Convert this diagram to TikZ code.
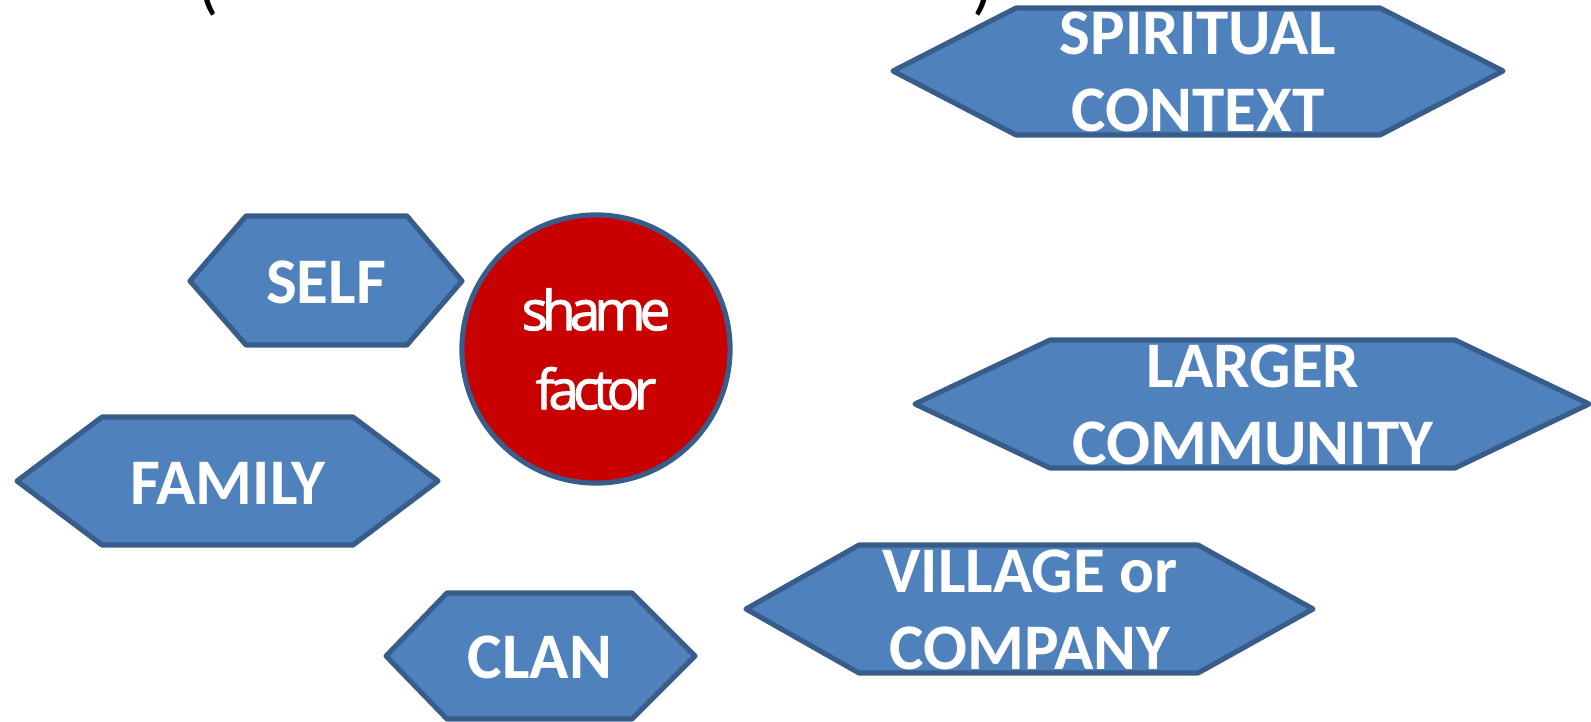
\documentclass[tikz,border=0pt]{standalone}
\usepackage{fontspec}
\setmainfont{Carlito}
\newfontfamily\shamefont[LetterSpace=-11,FakeBold=1.6]{Open Sans}

\definecolor{hexfill}{HTML}{4F81BD}
\definecolor{hexline}{HTML}{385D8A}
\definecolor{shamered}{HTML}{C80000}

\tikzset{
  hexa/.style={draw=hexline,fill=hexfill,line width=1.45pt,line join=round},
  lbl/.style={text=white,align=center,font=\fontsize{18.5}{22}\selectfont\bfseries},
  paren/.style={anchor=base,inner sep=0pt,font=\fontsize{20}{24}\selectfont}
}

\begin{document}
\begin{tikzpicture}[x=0.01cm,y=-0.01cm]
    \useasboundingbox (0,0) rectangle (1591,721);

    % cut-off title
    \node[paren] (lparen) at (208,6) {(};
    \node[paren] (rparen) at (983,6) {)};

    % outer spheres
    \draw[hexa] (893,71) -- (1016,8) -- (1380,8) -- (1503,71) -- (1380,135) -- (1016,135) -- cycle;
    \node[lbl] (spirit) at (1198,72) {SPIRITUAL\\CONTEXT};

    \draw[hexa] (915,404) -- (1050,340) -- (1455,340) -- (1589,404) -- (1455,468) -- (1050,468) -- cycle;
    \node[lbl] (larger) at (1253,405) {LARGER\\COMMUNITY};

    \draw[hexa] (746,609) -- (859,545) -- (1198,545) -- (1313,609) -- (1198,673) -- (859,673) -- cycle;
    \node[lbl] (village) at (1030,610) {VILLAGE or\\COMPANY};

    % inner spheres
    \draw[hexa] (190,281) -- (246,216) -- (407,216) -- (462,281) -- (407,345) -- (246,345) -- cycle;
    \node[lbl] (self) at (326,282) {SELF};

    \draw[hexa] (17,481) -- (102,417) -- (353,417) -- (438,481) -- (353,545) -- (102,545) -- cycle;
    \node[lbl] (family) at (228,483) {FAMILY};

    \draw[hexa] (386,656) -- (447,593) -- (632,593) -- (695,656) -- (632,719) -- (447,719) -- cycle;
    \node[lbl] (clan) at (540,657) {CLAN};

    \node[circle,draw=hexline,fill=shamered,line width=1.45pt,minimum size=2.68cm,inner sep=0pt,
          text=white,align=center,font=\fontsize{15.7}{22.5}\shamefont] (shame) at (596,349) {shame\\factor};
\end{tikzpicture}
\end{document}
